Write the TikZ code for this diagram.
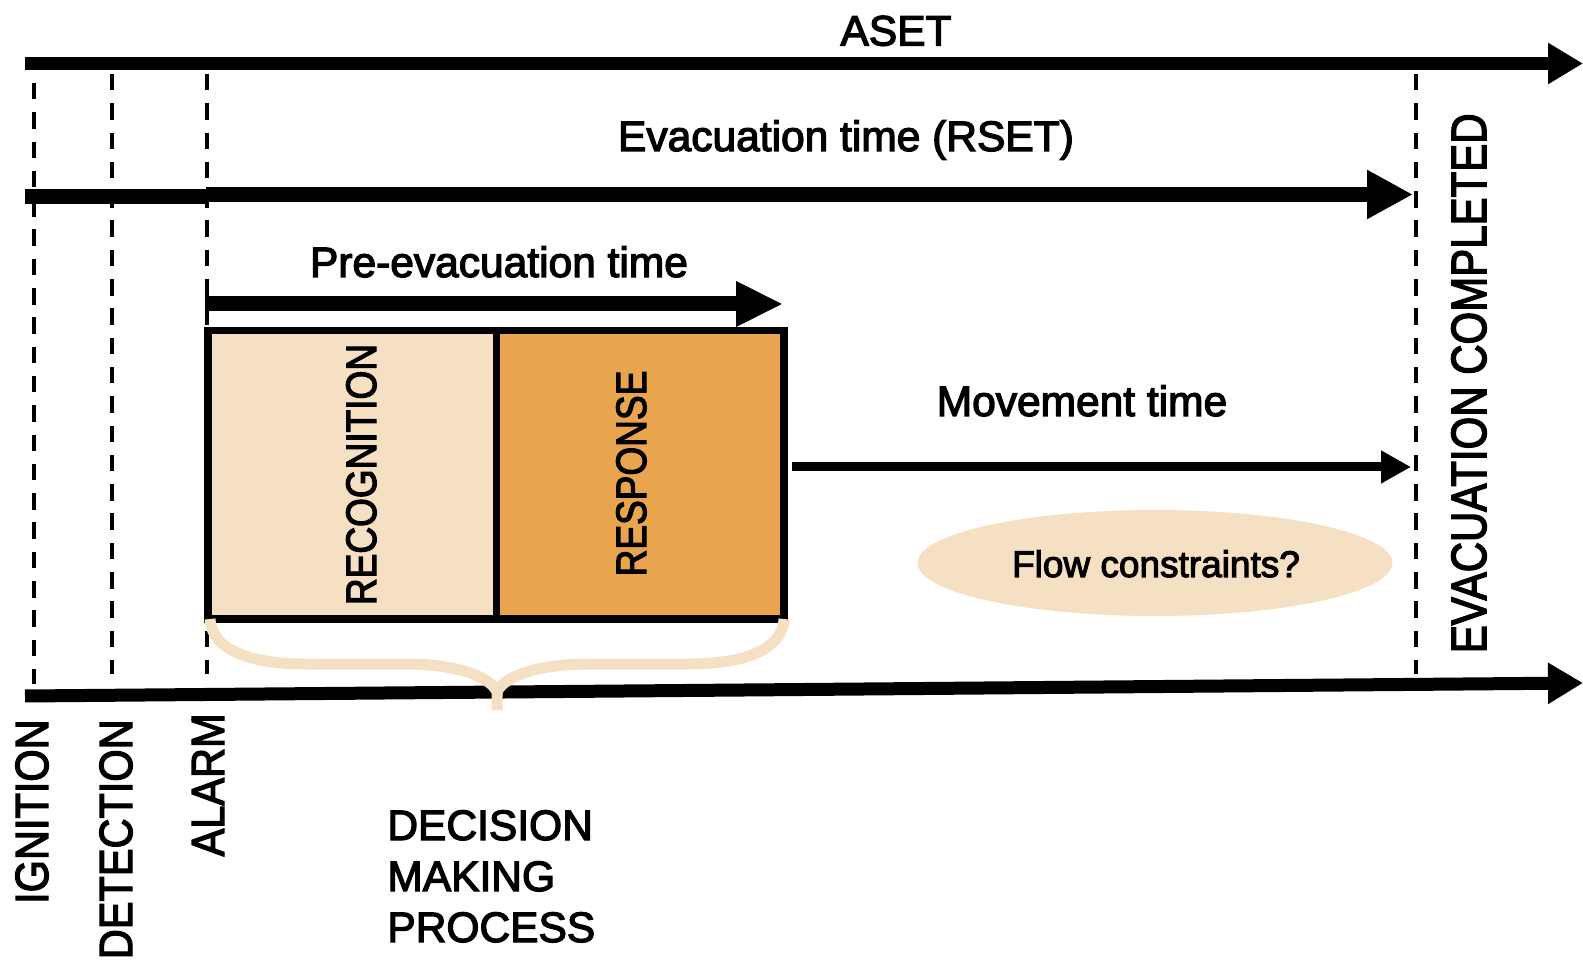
\documentclass[tikz,border=0pt]{standalone}
\usepackage{fontspec}
\setmainfont{Liberation Sans}[FakeBold=3]
\usetikzlibrary{arrows.meta,shapes.geometric}
\definecolor{peach}{HTML}{F6E0C4}
\definecolor{amber}{HTML}{E8A54D}

\begin{document}
\begin{tikzpicture}[x=0.5pt,y=-0.5pt,
  txt/.style={inner sep=0pt, font=\fontsize{21.25pt}{25.5pt}\selectfont},
  small/.style={inner sep=0pt, font=\fontsize{18.5pt}{22pt}\selectfont},
  vlabel/.style={inner sep=0pt, rotate=90, anchor=base east, font=\fontsize{20.75pt}{25pt}\selectfont},
  guide/.style={line width=1.75pt, dash pattern=on 8.25pt off 6.4pt},
  timeline/.style={line width=6.5pt, -{Triangle[length=17.5pt,width=19.5pt]}},
  phase/.style={draw, line width=3.75pt, minimum width=144.25pt, minimum height=144.25pt, inner sep=0pt, outer sep=0pt},
  brace/.style={peach, line width=5.5pt}
]
\useasboundingbox (0,0) rectangle (1583,961);

% event guides
\coordinate (ign top) at (34,83);    \coordinate (ign bot) at (34,684);
\coordinate (det top) at (112,74);   \coordinate (det bot) at (112,674);
\coordinate (alm top) at (207,74);   \coordinate (alm bot) at (207,674);
\coordinate (evc top) at (1416,74);  \coordinate (evc bot) at (1416,674);
\draw[guide] (ign top) -- (ign bot);
\draw[guide] (det top) -- (det bot);
\draw[guide] (alm top) -- (alm bot);
\draw[guide] (evc top) -- (evc bot);

% ASET
\coordinate (aset start) at (25,63.5);
\coordinate (aset end) at (1583,63.5);
\draw[timeline] (aset start) -- (aset end);
\node[txt, anchor=base] (aset) at (896,45.5) {ASET};

% RSET
\coordinate (rset start) at (25,196.5);
\coordinate (rset mid) at (209,196.5);
\coordinate (rset mid2) at (206,194.5);
\coordinate (rset end) at (1413,194.5);
\draw[line width=7.5pt] (rset start) -- (rset mid);
\draw[line width=7.5pt, -{Triangle[length=23pt,width=23pt]}] (rset mid2) -- (rset end);
\node[txt, anchor=base] (rset) at (846,151) {Evacuation time (RSET)};

% pre-evacuation
\coordinate (pre start) at (205,304);
\coordinate (pre end) at (783,304);
\draw[line width=7.5pt, -{Triangle[length=23.5pt,width=21.2pt]}] (pre start) -- (pre end);
\node[txt, anchor=base] (pre) at (499,277) {Pre-evacuation time};

% decision phases
\node[phase, fill=peach, anchor=north west] (recog) at (208,330.5) {};
\node[phase, fill=amber, anchor=north west, minimum width=143.75pt] (resp) at (recog.north east) {};
\node[small, rotate=90, anchor=base] (recogtxt) at (376,474.5) {\scalebox{1}[1.15]{RECOGNITION}};
\node[small, rotate=90, anchor=base] (resptxt) at (646,473.5) {\scalebox{1}[1.15]{RESPONSE}};

% movement
\coordinate (mov start) at (792,467);
\coordinate (mov end) at (1411,467);
\draw[line width=4.5pt, -{Triangle[length=15pt,width=15.5pt]}] (mov start) -- (mov end);
\node[txt, anchor=base] (mov) at (1082,416) {Movement time};

% flow constraints
\node[ellipse, fill=peach, minimum width=237.5pt, minimum height=53pt, inner sep=0pt] (flow) at (1155,563) {};
\node[small, anchor=base] (flowtxt) at (1156,577) {Flow constraints?};

% time axis
\coordinate (axis start) at (25,696);
\coordinate (axis end) at (1583,683);
\draw[timeline] (axis start) -- (axis end);

% brace
\coordinate (br left) at (210,619);
\coordinate (br right) at (784,619);
\coordinate (br tip) at (497,710);
\draw[brace] (br left) .. controls (212,652) and (255,664) .. (305,664)
  -- (405,664) .. controls (455,664) and (490,676) .. (497,692) -- (br tip);
\draw[brace] (br right) .. controls (782,652) and (739,664) .. (689,664)
  -- (589,664) .. controls (539,664) and (504,676) .. (497,692);

% event labels
\node[vlabel] (ign) at (48,719) {\scalebox{1}[1.12]{IGNITION}};
\node[vlabel] (det) at (132,719) {\scalebox{1}[1.12]{DETECTION}};
\node[vlabel] (alm) at (224,713) {\scalebox{1}[1.12]{ALARM}};
\node[vlabel, font=\fontsize{21pt}{25pt}\selectfont] (evc) at (1486,113) {\scalebox{1}[1.18]{EVACUATION COMPLETED}};

% decision making label (anchored at the baseline of its last line)
\node[txt, anchor=base west, align=left] (dmp) at (387,942) {DECISION\\MAKING\\PROCESS};
\end{tikzpicture}
\end{document}
